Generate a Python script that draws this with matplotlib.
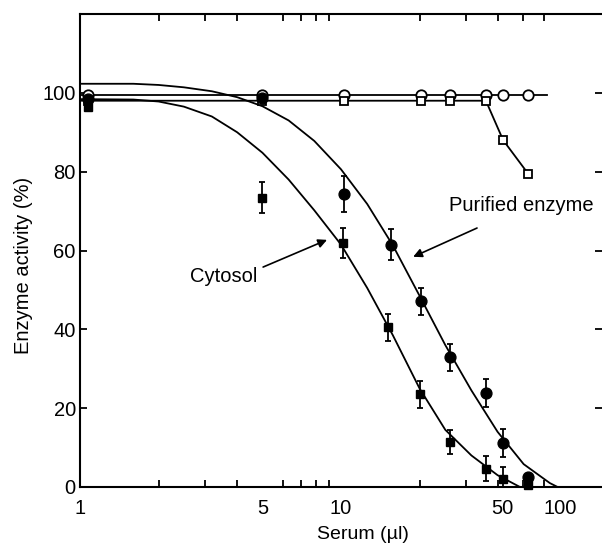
import numpy as np
import matplotlib
matplotlib.use("Agg")
import matplotlib.pyplot as plt
from matplotlib.ticker import FixedLocator, FixedFormatter, NullFormatter

plt.rcParams['font.family'] = ['Liberation Sans', 'DejaVu Sans']

# ---------------- data ----------------
# control, open circles (purified enzyme without serum factor)
ctrl_circ_x = [1.07, 5.0, 10.3, 20.3, 26.2, 35.9, 41.8, 52.1]
ctrl_circ_y = [99.5, 99.5, 99.5, 99.5, 99.5, 99.5, 99.5, 99.5]
ctrl_circ_line_x = [1.0, 61.5]
ctrl_circ_line_y = [99.5, 99.5]

# control, open squares (cytosol)
ctrl_sq_x = [1.07, 5.0, 10.3, 20.3, 26.2, 35.9, 41.8, 52.1]
ctrl_sq_y = [98.0, 98.0, 98.0, 98.0, 98.0, 98.0, 88.0, 79.5]
ctrl_sq_line_x = [1.0, 35.9, 41.8, 52.1]
ctrl_sq_line_y = [98.0, 98.0, 88.0, 79.5]

# purified enzyme, filled circles
pur_x = [1.07, 5.0, 10.3, 15.5, 20.3, 26.2, 35.9, 41.8, 52.1]
pur_y = [98.5, 98.7, 74.4, 61.5, 47.1, 32.9, 23.8, 11.1, 2.5]
pur_err = [0, 0, 4.6, 4.0, 3.5, 3.4, 3.6, 3.6, 0]

# cytosol, filled squares
cyt_x = [1.07, 5.0, 10.2, 15.1, 20.1, 26.2, 35.9, 41.8, 52.1]
cyt_y = [96.3, 73.4, 61.8, 40.5, 23.5, 11.4, 4.6, 2.0, 0.5]
cyt_err = [0, 4.0, 3.8, 3.4, 3.5, 3.0, 3.2, 3.0, 0]

# fitted curves
pur_fit_x = [1.0, 1.6, 2.0, 2.5, 3.2, 4.0, 5.0, 6.3, 7.9, 10.0, 12.6, 15.8,
             20.0, 25.1, 31.6, 39.8, 50.1, 63.1, 67.6]
pur_fit_y = [102.3, 102.3, 102.0, 101.4, 100.4, 98.9, 96.6, 93.0, 87.8, 80.6,
             71.8, 61.3, 48.5, 36.0, 24.5, 14.0, 5.8, 1.0, 0.0]
cyt_fit_x = [1.0, 1.6, 2.0, 2.5, 3.2, 4.0, 5.0, 6.3, 7.9, 10.0, 12.6, 15.8,
             20.0, 25.1, 31.6, 39.8, 48.5]
cyt_fit_y = [98.4, 98.3, 97.8, 96.5, 94.0, 90.0, 84.8, 78.0, 70.2, 61.5,
             50.5, 38.5, 25.0, 14.5, 8.0, 3.0, 0.0]

xtick_minor = [2, 3, 4, 5, 6, 7, 8, 9, 10, 20, 30, 40, 50, 60]
xlabel_pos = [1, 5, 10, 41.4, 69.0]
xlabel_txt = ['1', '5', '10', '50', '100']
yticks = [0, 20, 40, 60, 80, 100]

# ---------------- figure ----------------
fig = plt.figure(figsize=(6.02, 5.46), dpi=100)
ax = fig.add_axes([80/602, 59/546, 522/602, 473/546])
ax.set_xscale('log')
ax.set_xlim(1, 100)
ax.set_ylim(0, 120)

lw = 1.3
# control lines
ax.plot(ctrl_circ_line_x, ctrl_circ_line_y, color='black', lw=lw, zorder=2)
ax.plot(ctrl_sq_line_x, ctrl_sq_line_y, color='black', lw=lw, zorder=2)
ax.plot(ctrl_circ_x, ctrl_circ_y, 'o', ms=7.5, mfc='white', mec='black', mew=1.3, zorder=3)
ax.plot(ctrl_sq_x, ctrl_sq_y, 's', ms=5.5, mfc='white', mec='black', mew=1.3, zorder=3)

# fitted curves
ax.plot(pur_fit_x, pur_fit_y, color='black', lw=lw, zorder=2, solid_joinstyle='round')
ax.plot(cyt_fit_x, cyt_fit_y, color='black', lw=lw, zorder=2, solid_joinstyle='round')

# filled data points with error bars
pe = np.array(pur_err); ce = np.array(cyt_err)
px = np.array(pur_x); py = np.array(pur_y)
cx = np.array(cyt_x); cy = np.array(cyt_y)
m = pe > 0
ax.errorbar(px[m], py[m], yerr=pe[m], fmt='none', ecolor='black', elinewidth=1.3,
            capsize=2.5, capthick=1.3, zorder=4)
m = ce > 0
ax.errorbar(cx[m], cy[m], yerr=ce[m], fmt='none', ecolor='black', elinewidth=1.3,
            capsize=2.5, capthick=1.3, zorder=4)
ax.plot(px, py, 'o', ms=7.8, color='black', zorder=5, clip_on=False)
ax.plot(cx, cy, 's', ms=6.0, color='black', zorder=5, clip_on=False)

# annotations
fs = 14.5
ax.text(49, 71.5, 'Purified enzyme', fontsize=fs, ha='center', va='center')
ax.annotate('', xy=(18.9, 58.4), xytext=(33.2, 65.7),
            arrowprops=dict(arrowstyle='-|>', color='black', lw=1.2, mutation_scale=13,
                            shrinkA=0, shrinkB=0))
ax.text(3.56, 53.5, 'Cytosol', fontsize=fs, ha='center', va='center')
ax.annotate('', xy=(8.84, 62.7), xytext=(5.03, 55.8),
            arrowprops=dict(arrowstyle='-|>', color='black', lw=1.2, mutation_scale=13,
                            shrinkA=0, shrinkB=0))

# axes styling
for s in ['left', 'bottom', 'top']:
    ax.spines[s].set_linewidth(1.5)
ax.spines['right'].set_visible(False)

ax.xaxis.set_major_locator(FixedLocator(xlabel_pos))
ax.xaxis.set_major_formatter(FixedFormatter(xlabel_txt))
ax.xaxis.set_minor_locator(FixedLocator(xtick_minor))
ax.xaxis.set_minor_formatter(NullFormatter())
ax.tick_params(axis='x', which='major', length=0, pad=9, labelsize=fs)
ax.tick_params(axis='x', which='minor', direction='in', length=5, width=1.3,
               top=True, bottom=True)

ax.set_yticks(yticks)
ax.tick_params(axis='y', which='major', direction='in', length=5, width=1.3,
               left=True, right=True, labelsize=fs, pad=3)
ax.yaxis.set_minor_locator(FixedLocator([]))

ax.set_xlabel('Serum (µl)', fontsize=14)
ax.xaxis.label.set_va('center')
ax.xaxis.set_label_coords(0.542, -0.100)
ax.set_ylabel('Enzyme activity (%)', fontsize=fs)
ax.yaxis.label.set_va('center')
ax.yaxis.set_label_coords(-0.109, 0.469)

fig.savefig('out.png', dpi=100)
